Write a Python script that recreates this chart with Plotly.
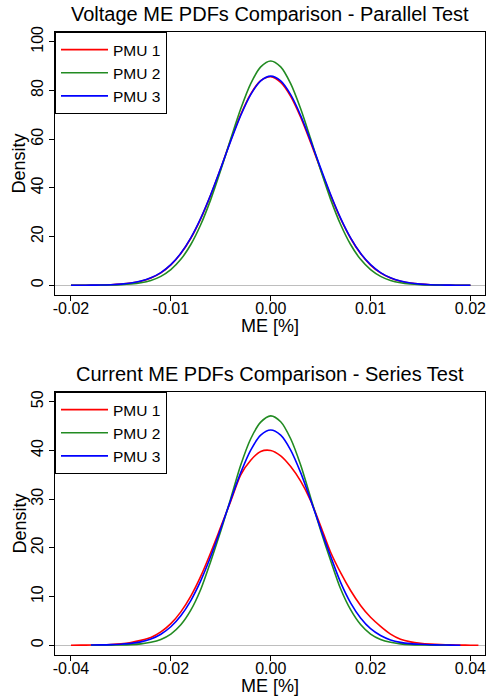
import plotly.graph_objects as go

# ---------------- data ----------------
series_names = ["PMU 1", "PMU 2", "PMU 3"]

# Top panel: Voltage ME PDFs - Parallel Test
top_x = [-0.020, -0.019, -0.018, -0.017, -0.016, -0.015, -0.014, -0.013, -0.012, -0.011,
         -0.010, -0.009, -0.008, -0.007, -0.006, -0.005, -0.004, -0.003, -0.002, -0.001,
         0.000, 0.001, 0.002, 0.003, 0.004, 0.005, 0.006, 0.007, 0.008, 0.009,
         0.010, 0.011, 0.012, 0.013, 0.014, 0.015, 0.016, 0.017, 0.018, 0.019, 0.020]
top_red = [0.01, 0.02, 0.05, 0.10, 0.22, 0.45, 0.88, 1.66, 3.0, 5.1,
           8.35, 13.0, 19.3, 27.4, 37.1, 48.0, 59.6, 70.1, 78.6, 84.0,
           85.6, 83.3, 77.6, 69.0, 58.6, 47.6, 36.9, 27.3, 19.3, 13.0,
           8.3, 5.1, 3.0, 1.65, 0.88, 0.45, 0.22, 0.10, 0.05, 0.02, 0.01]
top_green = [0.0, 0.01, 0.02, 0.04, 0.10, 0.23, 0.50, 1.02, 1.98, 3.66,
             6.41, 10.63, 16.73, 24.95, 35.28, 47.29, 60.12, 72.46, 82.79, 89.68,
             92.1, 89.68, 82.79, 72.46, 60.12, 47.29, 35.28, 24.95, 16.73, 10.63,
             6.41, 3.66, 1.98, 1.02, 0.50, 0.23, 0.10, 0.04, 0.02, 0.01, 0.0]
top_blue = [0.01, 0.02, 0.04, 0.10, 0.23, 0.47, 0.91, 1.71, 3.05, 5.20,
            8.45, 13.13, 19.48, 27.58, 37.28, 48.11, 59.27, 69.73, 78.29, 83.93,
            85.9, 83.93, 78.29, 69.73, 59.27, 48.11, 37.28, 27.58, 19.48, 13.13,
            8.45, 5.20, 3.05, 1.71, 0.91, 0.47, 0.23, 0.10, 0.04, 0.02, 0.01]

# Bottom panel: Current ME PDFs - Series Test
bot_red_x = [-0.040, -0.038, -0.036, -0.034, -0.032, -0.030, -0.028, -0.026, -0.024, -0.022,
             -0.020, -0.018, -0.016, -0.014, -0.012, -0.010, -0.008, -0.006, -0.004, -0.002,
             0.000, 0.002, 0.004, 0.006, 0.008, 0.010, 0.012, 0.014, 0.016, 0.018,
             0.020, 0.022, 0.024, 0.026, 0.028, 0.030, 0.032, 0.034, 0.036, 0.038,
             0.040, 0.0416]
bot_red = [0.01, 0.02, 0.045, 0.09, 0.17, 0.32, 0.58, 1.0, 1.6, 2.73,
           4.43, 6.86, 10.1, 14.2, 19.06, 24.3, 29.6, 35.0, 38.0, 39.8,
           40.0, 38.9, 36.7, 33.7, 29.7, 24.5, 19.1, 14.9, 11.25, 8.18,
           5.74, 3.89, 2.3, 1.25, 0.7, 0.4, 0.23, 0.13, 0.07, 0.035,
           0.015, 0.01]
bot_green_x = [-0.036, -0.034, -0.032, -0.030, -0.028, -0.026, -0.024, -0.022, -0.020, -0.018,
               -0.016, -0.014, -0.012, -0.010, -0.008, -0.006, -0.004, -0.002, 0.000, 0.002,
               0.004, 0.006, 0.008, 0.010, 0.012, 0.014, 0.016, 0.018, 0.020, 0.022,
               0.024, 0.026, 0.028, 0.030, 0.032, 0.034, 0.036]
bot_green = [0.0, 0.01, 0.03, 0.06, 0.13, 0.28, 0.6, 1.2, 2.3, 4.2,
             7.2, 11.5, 17.26, 23.46, 30.15, 37.0, 42.4, 45.81, 47.1, 45.9,
             42.4, 37.0, 30.3, 23.6, 17.4, 11.6, 7.3, 4.25, 2.3, 1.2,
             0.6, 0.28, 0.13, 0.06, 0.03, 0.01, 0.0]
bot_blue_x = [-0.036, -0.034, -0.032, -0.030, -0.028, -0.026, -0.024, -0.022, -0.020, -0.018,
              -0.016, -0.014, -0.012, -0.010, -0.008, -0.006, -0.004, -0.002, 0.000, 0.002,
              0.004, 0.006, 0.008, 0.010, 0.012, 0.014, 0.016, 0.018, 0.020, 0.022,
              0.024, 0.026, 0.028, 0.030, 0.032, 0.034, 0.036, 0.038]
bot_blue = [0.04, 0.07, 0.12, 0.22, 0.38, 0.70, 1.29, 2.27, 3.80, 6.05,
            9.18, 13.27, 18.26, 23.93, 29.84, 35.44, 40.07, 43.13, 44.2, 43.13,
            40.07, 35.44, 29.84, 23.93, 18.26, 12.9, 8.7, 5.6, 3.4, 2.0,
            1.1, 0.6, 0.33, 0.2, 0.11, 0.06, 0.03, 0.015]

top_xticks = [-0.02, -0.01, 0.0, 0.01, 0.02]
top_xlabels = ["-0.02", "-0.01", "0.00", "0.01", "0.02"]
top_yticks = [0, 20, 40, 60, 80, 100]
bot_xticks = [-0.04, -0.02, 0.0, 0.02, 0.04]
bot_xlabels = ["-0.04", "-0.02", "0.00", "0.02", "0.04"]
bot_yticks = [0, 10, 20, 30, 40, 50]

titles = ["Voltage ME PDFs Comparison - Parallel Test", "Current ME PDFs Comparison - Series Test"]
xlabel = "ME [%]"
ylabel = "Density"

# ---------------- styling ----------------
colors = ["#FF0000", "#228B22", "#0000FF"]
FONT = "Liberation Sans, Arial, Helvetica, sans-serif"
W, H = 488, 700
LW = 1.6

fig = go.Figure()

top_series = [(top_x, top_red), (top_x, top_green), (top_x, top_blue)]
bot_series = [(bot_red_x, bot_red), (bot_green_x, bot_green), (bot_blue_x, bot_blue)]

for i, (xs, ys) in enumerate(top_series):
    fig.add_trace(go.Scatter(x=xs, y=ys, mode="lines", name=series_names[i],
                             line=dict(color=colors[i], width=LW, shape="spline", smoothing=0.8),
                             xaxis="x", yaxis="y", legend="legend", hoverinfo="skip"))
for i, (xs, ys) in enumerate(bot_series):
    fig.add_trace(go.Scatter(x=xs, y=ys, mode="lines", name=series_names[i],
                             line=dict(color=colors[i], width=LW, shape="spline", smoothing=0.8),
                             xaxis="x2", yaxis="y2", legend="legend2", hoverinfo="skip"))

def px_x(p):
    return p / W

def px_y(p):
    return 1 - p / H

xdom = [px_x(55), px_x(485)]
top_dom = [px_y(295), px_y(32)]
bot_dom = [px_y(655), px_y(392)]

axis_common = dict(showline=True, mirror=True, linecolor="black", linewidth=1,
                   ticks="outside", ticklen=5, tickwidth=1, tickcolor="black",
                   showgrid=False, automargin=False,
                   tickfont=dict(size=16, color="black", family=FONT))

legend_common = dict(xanchor="left", yanchor="top", bgcolor="white",
                     bordercolor="black", borderwidth=1, itemwidth=47,
                     font=dict(size=15.5, family=FONT, color="black"), tracegroupgap=0)

fig.update_layout(
    template="none",
    width=W, height=H, autosize=False,
    margin=dict(l=0, r=0, t=0, b=0, pad=0),
    paper_bgcolor="white", plot_bgcolor="white",
    font=dict(family=FONT, color="black"),
    xaxis=dict(domain=xdom, anchor="y", range=[-0.0216, 0.02146], ticklabelstandoff=-6,
               tickvals=top_xticks, ticktext=top_xlabels, zeroline=False, **axis_common),
    yaxis=dict(domain=top_dom, anchor="x", range=[-4, 104], tickvals=top_yticks,
               tickangle=-90, zeroline=True, zerolinecolor="#BEBEBE", zerolinewidth=1,
               **axis_common),
    xaxis2=dict(domain=xdom, anchor="y2", range=[-0.0432, 0.04292], ticklabelstandoff=-6,
                tickvals=bot_xticks, ticktext=bot_xlabels, zeroline=False, **axis_common),
    yaxis2=dict(domain=bot_dom, anchor="x2", range=[-2, 52], tickvals=bot_yticks,
                tickangle=-90, zeroline=True, zerolinecolor="#BEBEBE", zerolinewidth=1,
                **axis_common),
    legend=dict(x=xdom[0], y=top_dom[1], **legend_common),
    legend2=dict(x=xdom[0], y=bot_dom[1], **legend_common),
    showlegend=True,
)

xc = (xdom[0] + xdom[1]) / 2
ann = [
    dict(text=titles[0], x=xc, y=px_y(14.0), font=dict(size=20)),
    dict(text=titles[1], x=xc, y=px_y(374.0), font=dict(size=20)),
    dict(text=xlabel, x=xc, y=px_y(326.0), font=dict(size=18)),
    dict(text=xlabel, x=xc, y=px_y(686.0), font=dict(size=18)),
    dict(text=ylabel, x=px_x(19), y=(top_dom[0] + top_dom[1]) / 2, font=dict(size=18), textangle=-90),
    dict(text=ylabel, x=px_x(19), y=(bot_dom[0] + bot_dom[1]) / 2, font=dict(size=18), textangle=-90),
]
for a in ann:
    a.update(xref="paper", yref="paper", xanchor="center", yanchor="middle", showarrow=False)
    a["font"].update(family=FONT, color="black")
fig.update_layout(annotations=ann)

# remove the browser's default 8px page margin so the figure sits at the window origin
fig.write_html("out.html", config={"displayModeBar": False, "staticPlot": True},
               post_script="document.body.style.margin='0';document.body.style.overflow='hidden';")
